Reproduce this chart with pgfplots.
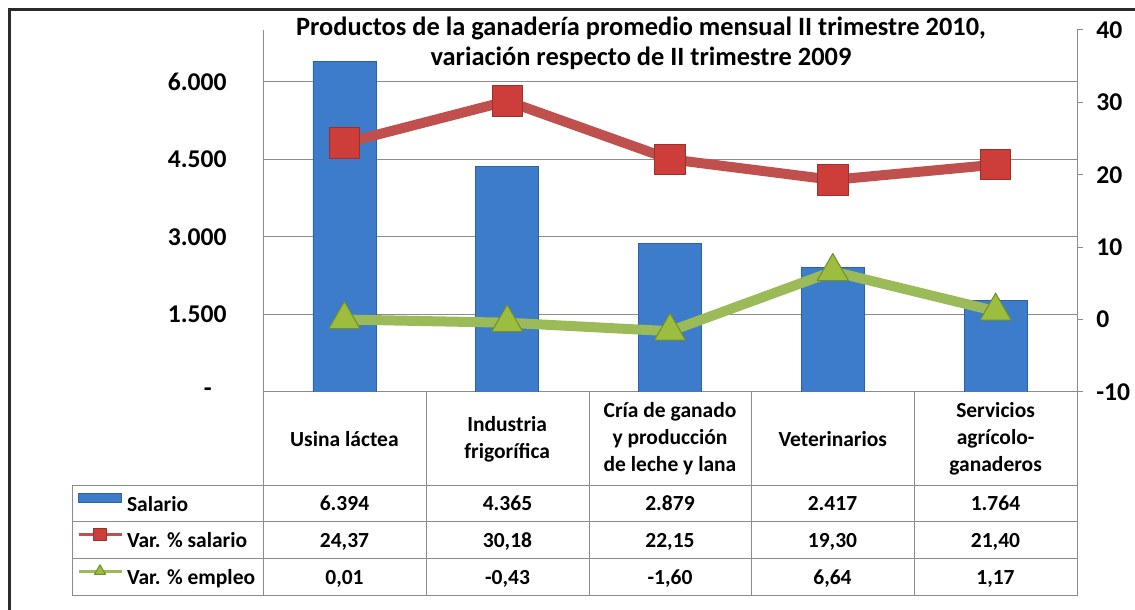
\documentclass[border=0pt]{standalone}
\usepackage{pgfplots}
\pgfplotsset{compat=1.18}
\usepackage{pgfplotstable}
\usepackage{fontspec}
\setmainfont{Carlito}

\definecolor{barblue}{HTML}{3D7BCB}
\definecolor{bardark}{HTML}{2C62A8}
\definecolor{redline}{HTML}{C0504D}
\definecolor{redmark}{HTML}{CD3E3A}
\definecolor{reddark}{HTML}{9B302D}
\definecolor{greenline}{HTML}{9BBB59}
\definecolor{greenmark}{HTML}{9CBD3E}
\definecolor{greendark}{HTML}{6F8F2A}
\definecolor{axgray}{HTML}{8C8C8C}
\definecolor{framec}{HTML}{2B2B2B}

% salario mensual y variaciones (%) respecto de II trim. 2009
\pgfplotstableread{
x salario varsal varemp
0 6394 24.37 0.01
1 4365 30.18 -0.43
2 2879 22.15 -1.60
3 2417 19.30 6.64
4 1764 21.40 1.17
}\datos

\newcommand{\tickfont}{\bfseries\fontsize{12.8}{14}\selectfont}
\newcommand{\tabfont}{\bfseries\fontsize{10.75}{13.5}\selectfont}

\begin{document}
\begin{tikzpicture}
% 1 px de la imagen = 0.5pt
\path[use as bounding box] (0,0) rectangle (567.5pt,305pt);

\begin{axis}[
  at={(131.5pt,109pt)}, anchor=south west,
  scale only axis, width=407pt, height=181pt,
  xmin=-0.5, xmax=4.5, ymin=0, ymax=7000,
  axis x line*=bottom, axis y line*=left,
  axis line style={axgray, line width=0.5pt},
  major tick length=0pt,
  ytick={0,1500,3000,4500,6000},
  yticklabels={{-\hspace*{7.5pt}},1.500,3.000,4.500,6.000},
  yticklabel style={anchor=east, inner sep=0pt, xshift=-18pt, font=\tickfont},
  ymajorgrids, grid style={axgray, line width=0.5pt},
  xtick={0,1,2,3,4},
  xticklabels={Usina láctea, Industria\\frigorífica,
    Cría de ganado\\y producción\\de leche y lana, Veterinarios,
    Servicios\\agrícolo-\\ganaderos},
  xticklabel style={align=center, anchor=center, inner sep=0pt,
    yshift=-23.5pt, font=\tabfont},
  ybar, bar width=31.5pt,
]
\addplot[fill=barblue, draw=bardark, line width=0.4pt]
  table[x=x, y=salario] {\datos};
\end{axis}

\begin{axis}[
  at={(131.5pt,109pt)}, anchor=south west,
  scale only axis, width=407pt, height=181pt,
  xmin=-0.5, xmax=4.5, ymin=-10, ymax=40,
  axis x line=none, axis y line*=right,
  axis line style={axgray, line width=0.5pt},
  tick align=outside, major tick length=3pt,
  tick style={axgray, line width=0.5pt},
  ytick={-10,0,10,20,30,40},
  yticklabels={-10,0,10,20,30,40},
  yticklabel style={anchor=west, inner sep=0pt, xshift=6.5pt, font=\tickfont},
  legend image code/.code={
    \draw[mark repeat=2, mark phase=2, #1]
      plot coordinates {(0pt,3.3pt) (10.75pt,3.3pt) (21.5pt,3.3pt)};},
  legend image post style={line width=1.5pt, mark size=3.2pt},
  legend cell align=left,
  legend style={at={(-0.2285,-0.2597)}, anchor=north west,
    draw=none, fill=none, inner sep=0pt, outer sep=0pt, row sep=0pt,
    font=\tabfont,
    nodes={inner sep=0pt, text height=12.5pt, text depth=5.85pt},
    /tikz/every odd column/.append style={column sep=2pt}},
]
\addlegendimage{legend image code/.code={
  \draw[fill=barblue, draw=bardark, line width=0.4pt] (0pt,1.2pt) rectangle (21.5pt,5.4pt);}}
\addlegendentry{Salario}
\addplot[redline, line width=5pt, line join=round, mark=square*, mark size=7.6pt,
  mark options={fill=redmark, draw=reddark, line width=0.5pt}]
  table[x=x, y=varsal] {\datos};
\addlegendentry{Var. \% salario}
\addplot[greenline, line width=5pt, line join=round, mark=triangle*, mark size=9pt,
  mark options={fill=greenmark, draw=greendark, line width=0.5pt}]
  table[x=x, y=varemp] {\datos};
\addlegendentry{Var. \% empleo}
\end{axis}

\begin{scope}[x=0.5pt, y=0.5pt]
  % titulo
  \node[align=center, font=\bfseries\fontsize{13.2}{15}\selectfont] at (641,567)
    {Productos de la ganadería promedio mensual II trimestre 2010,\\
     variación respecto de II trimestre 2009};
  % tabla de datos
  \begin{scope}[axgray, line width=0.5pt]
    \foreach \yy in {124,88,51,14} \draw (72,\yy) -- (1077,\yy);
    \draw (72,124) -- (72,14);
    \foreach \xx in {263,426,589,751,914,1077} \draw (\xx,218) -- (\xx,14);
  \end{scope}
  \begin{scope}[every node/.style={anchor=base, font=\tabfont, inner sep=0pt}]
    % Salario
    \node at (344.5,99) {6.394};
    \node at (507.5,99) {4.365};
    \node at (670,99)   {2.879};
    \node at (832.5,99) {2.417};
    \node at (995.5,99) {1.764};
    % Var. % salario
    \node at (344.5,62.5) {24,37};
    \node at (507.5,62.5) {30,18};
    \node at (670,62.5)   {22,15};
    \node at (832.5,62.5) {19,30};
    \node at (995.5,62.5) {21,40};
    % Var. % empleo
    \node at (344.5,25.5) {0,01};
    \node at (507.5,25.5) {-0,43};
    \node at (670,25.5)   {-1,60};
    \node at (832.5,25.5) {6,64};
    \node at (995.5,25.5) {1,17};
  \end{scope}
  % marco
  \draw[framec, line width=1.5pt] (9.5,0) -- (9.5,600.5) -- (1135,600.5);
\end{scope}
\end{tikzpicture}
\end{document}
